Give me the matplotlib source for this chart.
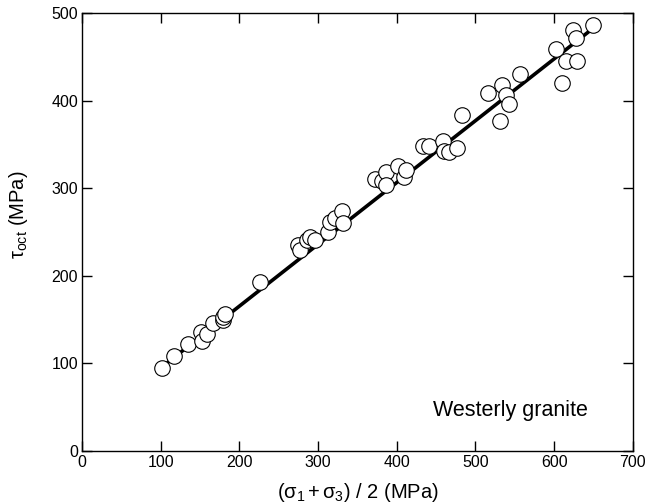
import matplotlib.pyplot as plt

plt.rcParams['font.family'] = ['Liberation Sans', 'DejaVu Sans']
plt.rcParams['mathtext.fontset'] = 'custom'
plt.rcParams['mathtext.rm'] = 'Liberation Sans'
plt.rcParams['mathtext.it'] = 'Liberation Sans:italic'

# mean stress (sigma1 + sigma3)/2, MPa
x_vals = [101, 117, 135, 151, 152.5, 159, 166.5, 179, 179.5, 181, 226,
          275, 277, 285.5, 290, 296, 313, 315, 321.5, 330, 331,
          372, 380.7, 386, 386, 402, 409, 411.7, 433.7, 441.3,
          459, 460, 466.7, 476, 483, 516, 531, 533.7, 539, 543, 556.5,
          602, 610, 615, 628.5, 624.5, 627.7, 649.7]
# octahedral shear stress, MPa
y_vals = [95, 108, 122.5, 136, 126, 134, 146, 149.5, 153.5, 157, 193,
          235.5, 229.5, 241, 244, 241, 250, 262, 265.6, 274, 260.6,
          310.5, 308.5, 319, 303.7, 325.7, 312.4, 320.8, 348.5, 348.5,
          353.9, 342.8, 341.7, 346, 383.6, 408.3, 377, 417.8, 407, 396, 431,
          458.9, 420.4, 445, 445, 481, 472, 485.9]

fit_x = [100, 650]
fit_y = [95, 483]

fig = plt.figure(figsize=(6.47, 5.04), dpi=100)
ax = fig.add_axes([0.127, 0.105, 0.851, 0.869])

ax.plot(fit_x, fit_y, color='black', linewidth=2.6, zorder=2)
ax.scatter(x_vals, y_vals, s=125, facecolor='white', edgecolor='black',
           linewidth=0.8, zorder=3)

ax.set_xlim(0, 700)
ax.set_ylim(0, 500)
ax.set_xticks([0, 100, 200, 300, 400, 500, 600, 700])
ax.set_yticks([0, 100, 200, 300, 400, 500])
ax.tick_params(direction='in', length=7, width=1, top=True, right=True,
               labelsize=11.5, pad=3)
for s in ax.spines.values():
    s.set_linewidth(1)

ax.set_xlabel('(σ$_1\\,$+$\\,$σ$_3$) / 2 (MPa)', fontsize=14.5, labelpad=8)
ax.set_ylabel('τ$_{\\rm oct}$ (MPa)', fontsize=14.5)
ax.yaxis.set_label_coords(-0.094, 0.54)
ax.text(544, 40, 'Westerly granite', fontsize=15.5, ha='center', va='baseline')

fig.savefig('out.png', dpi=100)
plt.close()
